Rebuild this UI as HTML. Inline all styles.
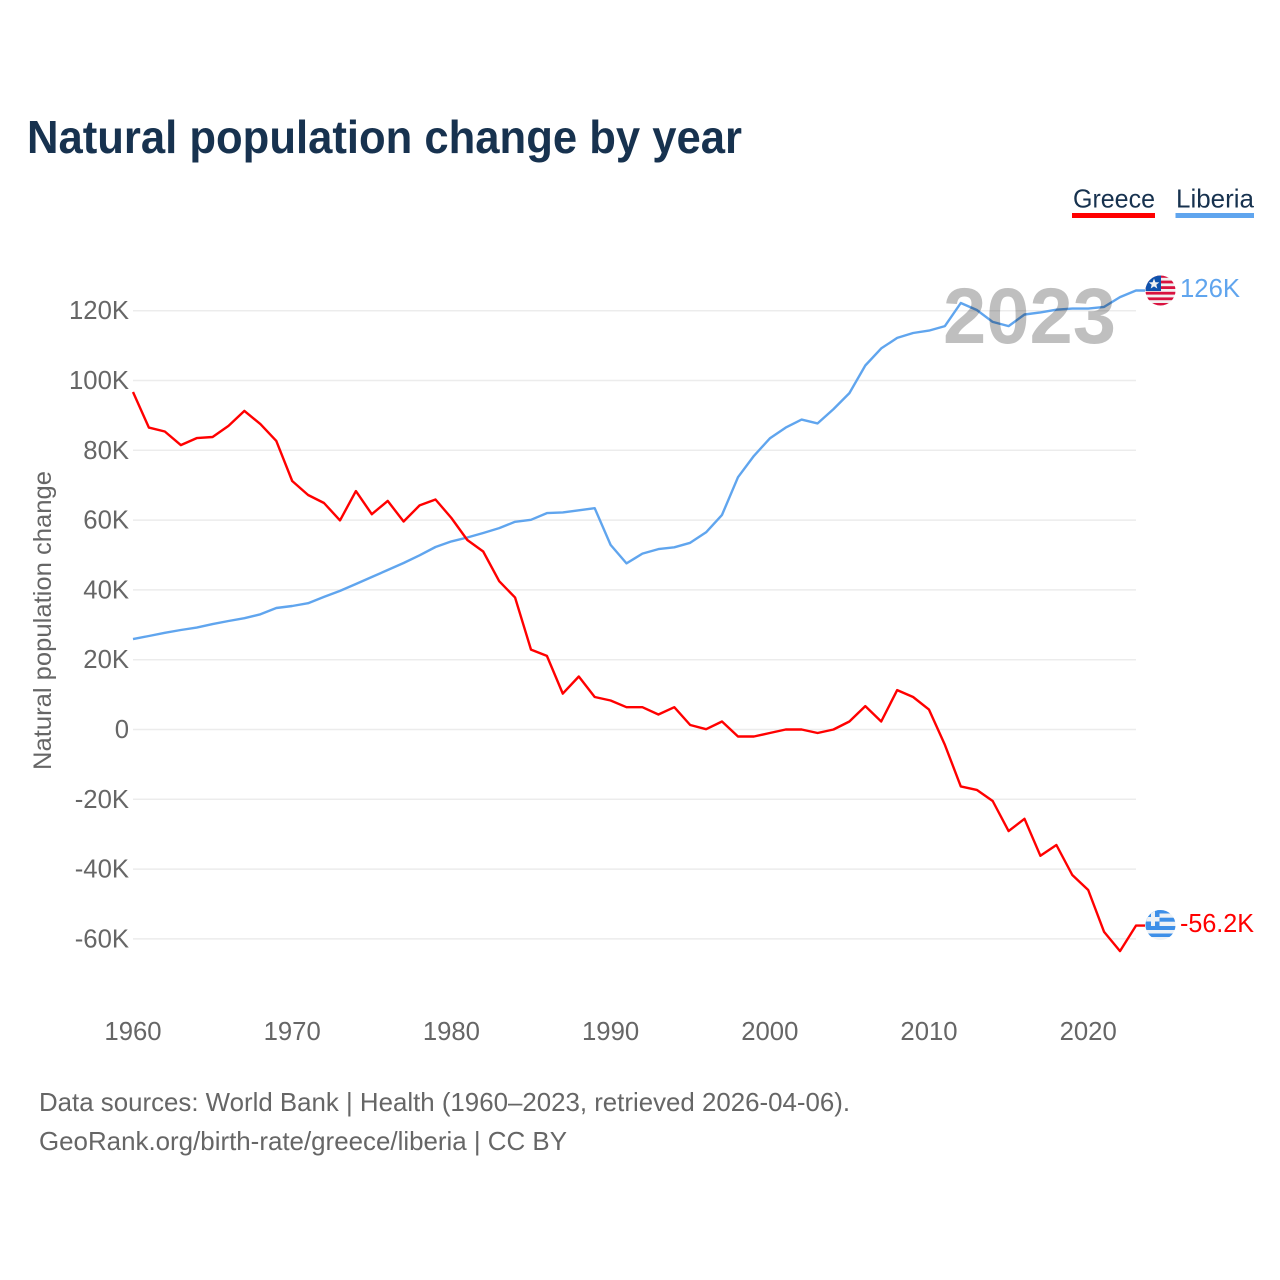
<!DOCTYPE html>
<html lang="en">
<head>
<meta charset="utf-8">
<title>Natural population change by year</title>
<style>
html,body{margin:0;padding:0;background:#fff;width:1280px;height:1280px;overflow:hidden}
svg{display:block;font-family:"Liberation Sans",sans-serif}
</style>
</head>
<body>
<svg id="chart" xmlns="http://www.w3.org/2000/svg" width="1280" height="1280" viewBox="0 0 1280 1280">
  <defs>
    <clipPath id="lr-clip"><circle cx="1160.5" cy="290.5" r="15"/></clipPath>
    <clipPath id="gr-clip"><circle cx="1160.5" cy="925" r="15"/></clipPath>
  </defs>
  <text x="27" y="153" font-size="46" font-weight="700" fill="#17324f" textLength="715" lengthAdjust="spacingAndGlyphs">Natural population change by year</text>

  <g>
    <g>
      <text x="1073" y="207.500" font-size="26" fill="#17324f" textLength="82" lengthAdjust="spacingAndGlyphs">Greece</text>
      <rect x="1072" y="213" width="83" height="5" fill="#ff0000"/>
    </g>
    <g>
      <text x="1176" y="207.500" font-size="26" fill="#17324f" textLength="78" lengthAdjust="spacingAndGlyphs">Liberia</text>
      <rect x="1175.500" y="213" width="78.500" height="5" fill="#60a5ee"/>
    </g>
  </g>

  <g id="grid"></g>
  <g id="y-ticks"></g>
  <g id="x-ticks"></g>
  <text transform="translate(51 620.500) rotate(-90)" text-anchor="middle" font-size="25" fill="#666" textLength="299" lengthAdjust="spacingAndGlyphs">Natural population change</text>

  <g id="series"></g>

  <text x="943" y="343" font-size="79" font-weight="700" fill="#000" fill-opacity="0.25" textLength="173" lengthAdjust="spacingAndGlyphs">2023</text>

  <g clip-path="url(#lr-clip)">
    <rect x="1145" y="275" width="31" height="31" fill="#f2f2f2"/>
    <rect x="1145" y="275" width="31" height="2.800" fill="#d9123f"/>
    <rect x="1145" y="280.600" width="31" height="2.800" fill="#d9123f"/>
    <rect x="1145" y="286.200" width="31" height="2.800" fill="#d9123f"/>
    <rect x="1145" y="291.800" width="31" height="2.800" fill="#d9123f"/>
    <rect x="1145" y="297.400" width="31" height="2.800" fill="#d9123f"/>
    <rect x="1145" y="303" width="31" height="3" fill="#d9123f"/>
    <rect x="1145" y="275" width="16" height="16" fill="#0f52ad"/>
    <polygon points="1154,278.500 1155.400,282.200 1159.300,282.400 1156.300,284.800 1157.300,288.500 1154,286.400 1150.700,288.500 1151.700,284.800 1148.700,282.400 1152.600,282.200" fill="#f0f0f0"/>
  </g>
  <text x="1180" y="297" font-size="26" fill="#60a5ee" textLength="60" lengthAdjust="spacingAndGlyphs">126K</text>

  <g clip-path="url(#gr-clip)">
    <rect x="1145" y="910" width="31" height="31" fill="#eef2f6"/>
    <rect x="1145" y="910" width="31" height="3.500" fill="#3d8fe8"/>
    <rect x="1145" y="917.700" width="31" height="4" fill="#3d8fe8"/>
    <rect x="1145" y="926" width="31" height="4" fill="#3d8fe8"/>
    <rect x="1145" y="933.500" width="31" height="3.500" fill="#3d8fe8"/>
    <rect x="1145" y="910" width="14.500" height="16" fill="#3d8fe8"/>
    <rect x="1151" y="910" width="4" height="16" fill="#eef2f6"/>
    <rect x="1145" y="917" width="14.500" height="4.500" fill="#eef2f6"/>
  </g>
  <text x="1180" y="932" font-size="26" fill="#ff0000" textLength="74" lengthAdjust="spacingAndGlyphs">-56.2K</text>

  <text x="39" y="1111" font-size="26" fill="#666" textLength="811" lengthAdjust="spacingAndGlyphs">Data sources: World Bank | Health (1960–2023, retrieved 2026-04-06).</text>
  <text x="39" y="1150" font-size="26" fill="#666" textLength="528" lengthAdjust="spacingAndGlyphs">GeoRank.org/birth-rate/greece/liberia | CC BY</text>
</svg>
<script>
const firstYear = 1960;
const greeceValues = [96.7,86.5,85.4,81.5,83.5,83.8,87.0,91.3,87.5,82.7,71.2,67.2,64.9,59.9,68.3,61.7,65.5,59.6,64.2,65.9,60.6,54.3,51.0,42.5,37.8,22.9,21.1,10.3,15.2,9.3,8.3,6.4,6.4,4.3,6.4,1.3,0.1,2.3,-2.0,-2.0,-1.0,0,0,-1.0,0,2.3,6.7,2.3,11.3,9.3,5.7,-4.4,-16.3,-17.3,-20.5,-29.1,-25.6,-36.2,-33.1,-41.7,-46.0,-58.0,-63.5,-56.2];
const liberiaValues = [25.9,26.8,27.7,28.5,29.2,30.2,31.1,31.9,33.0,34.8,35.4,36.2,38.0,39.7,41.7,43.7,45.7,47.7,49.9,52.3,53.9,55.0,56.3,57.7,59.5,60.1,62.0,62.2,62.8,63.4,52.9,47.6,50.4,51.7,52.2,53.5,56.5,61.5,72.3,78.4,83.4,86.5,88.8,87.7,91.8,96.4,104.3,109.2,112.2,113.6,114.3,115.6,122.2,120.2,116.8,115.6,118.9,119.5,120.3,120.6,120.6,121.1,123.9,125.8];
const yTickValues = [120,100,80,60,40,20,0,-20,-40,-60];
const xTickYears = [1960,1970,1980,1990,2000,2010,2020];

const SVG_NS = 'http://www.w3.org/2000/svg';
function xScale(year){ return 133 + (year - 1960) * 15.92; }
function yScale(value){ return 729.5 - value * 3.49; }
function yLabel(value){ return value === 0 ? '0' : value + 'K'; }

const gridGroup = document.getElementById('grid');
const yGroup = document.getElementById('y-ticks');
const xGroup = document.getElementById('x-ticks');
const seriesGroup = document.getElementById('series');

yTickValues.forEach(function(value){
  const line = document.createElementNS(SVG_NS, 'line');
  
  
  line.setAttribute('x1', 133);
  line.setAttribute('x2', 1136);
  line.setAttribute('y1', yScale(value));
  line.setAttribute('y2', yScale(value));
  line.setAttribute('stroke', '#ececec');
  line.setAttribute('stroke-width', '1.5');
  gridGroup.appendChild(line);

  const label = document.createElementNS(SVG_NS, 'text');
  
  
  label.setAttribute('x', 129);
  label.setAttribute('y', yScale(value) + 8.5);
  label.setAttribute('text-anchor', 'end');
  label.setAttribute('font-size', '25.7');
  label.setAttribute('fill', '#666');
  label.textContent = yLabel(value);
  yGroup.appendChild(label);
});

xTickYears.forEach(function(year){
  const label = document.createElementNS(SVG_NS, 'text');
  
  
  label.setAttribute('x', xScale(year));
  label.setAttribute('y', 1040);
  label.setAttribute('text-anchor', 'middle');
  label.setAttribute('font-size', '25.7');
  label.setAttribute('fill', '#666');
  label.textContent = year;
  xGroup.appendChild(label);
});

function linePath(values){
  const points = values.map(function(value, i){
    return xScale(firstYear + i).toFixed(1) + ',' + yScale(value).toFixed(1);
  });
  const lastY = yScale(values[values.length - 1]).toFixed(1);
  const lastX = xScale(firstYear + values.length - 1) + 9;
  return 'M' + points.join('L') + 'L' + lastX.toFixed(1) + ',' + lastY;
}

const liberiaLine = document.createElementNS(SVG_NS, 'path');


liberiaLine.setAttribute('d', linePath(liberiaValues));
liberiaLine.setAttribute('fill', 'none');
liberiaLine.setAttribute('stroke', '#60a5ee');
liberiaLine.setAttribute('stroke-width', '2.4');
liberiaLine.setAttribute('stroke-linejoin', 'round');
seriesGroup.appendChild(liberiaLine);

const greeceLine = document.createElementNS(SVG_NS, 'path');


greeceLine.setAttribute('d', linePath(greeceValues));
greeceLine.setAttribute('fill', 'none');
greeceLine.setAttribute('stroke', '#ff0000');
greeceLine.setAttribute('stroke-width', '2.4');
greeceLine.setAttribute('stroke-linejoin', 'round');
seriesGroup.appendChild(greeceLine);
</script>
</body>
</html>
